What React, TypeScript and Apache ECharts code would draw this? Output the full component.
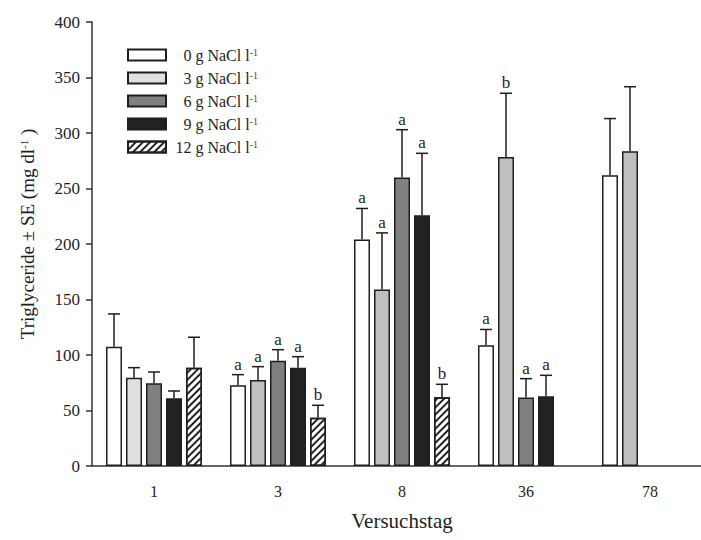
import React, { useEffect, useRef } from 'react';
import * as echarts from 'echarts';

const categories = ['1', '3', '8', '36', '78'];
const levelNames = ['0 g', '3 g', '6 g', '9 g', '12 g'];

const mean0 = [107.5, 72.7, 204, 108.7, 262];
const se0 = [29.5, 9.6, 28, 14.3, 51];
const letters0 = ['', 'a', 'a', 'a', ''];

const mean3 = [79.5, 77.5, 159, 278.4, 283.5];
const se3 = [9.1, 12, 51, 57.4, 58.2];
const letters3 = ['', 'a', 'a', 'b', ''];

const mean6 = [74.5, 94.9, 260, 61.6, null];
const se6 = [10.2, 9.9, 43, 17.1, null];
const letters6 = ['', 'a', 'a', 'a', ''];

const mean9 = [61, 88.6, 226, 62.8, null];
const se9 = [6.6, 9.9, 55.7, 18.9, null];
const letters9 = ['', 'a', 'a', 'a', ''];

const mean12 = [88.6, 43.5, 61.9, null, null];
const se12 = [27.4, 11.2, 11.7, null, null];
const letters12 = ['', 'b', 'b', '', ''];

const yTicks = [0, 50, 100, 150, 200, 250, 300, 350, 400];

const FONT = '"Liberation Serif", "Times New Roman", serif';
const INK = '#1e1e1e';

export default function App() {
  const ref = useRef<HTMLDivElement>(null);
  useEffect(() => {
    document.body.style.margin = '0';
    if (!ref.current) return;
    const chart = echarts.init(ref.current, undefined, { renderer: 'svg' });

    const means = [mean0, mean3, mean6, mean9, mean12];
    const ses = [se0, se3, se6, se9, se12];
    const letters = [letters0, letters3, letters6, letters9, letters12];
    const fills = ['#ffffff', '#e0e0e0', '#808080', '#222222', '#ffffff'];

    const barSeries: any[] = means.map((arr, lvl) => ({
      name: levelNames[lvl],
      type: 'bar',
      barWidth: 16,
      barGap: '25%',
      itemStyle: {
        color: fills[lvl],
        borderColor: INK,
        borderWidth: 1.5,
        ...(lvl === 4
          ? {
              decal: {
                symbol: 'rect',
                symbolSize: 1,
                color: '#222',
                backgroundColor: '#ffffff',
                dashArrayX: [1, 0],
                dashArrayY: [1.5, 3],
                rotation: -Math.PI / 4,
              },
            }
          : {}),
      },
      data: arr.map((v, ci) =>
        lvl === 1 && ci > 0 ? { value: v, itemStyle: { color: '#bfbfbf' } } : v
      ),
      z: 2,
    }));

    const errItems: { cat: number; m: number; s: number; lvl: number; letter: string }[] = [];
    means.forEach((arr, lvl) => {
      arr.forEach((m, ci) => {
        const s = ses[lvl][ci];
        if (m != null && s != null) {
          errItems.push({ cat: ci, m: m as number, s: s as number, lvl, letter: letters[lvl][ci] });
        }
      });
    });

    const errSeries = {
      type: 'custom',
      z: 5,
      silent: true,
      encode: { x: 0, y: 1 },
      data: errItems.map((e) => [e.cat, e.m + e.s]),
      renderItem: (params: any, api: any) => {
        const e = errItems[params.dataIndex];
        const base = api.coord([e.cat, e.m]);
        const top = api.coord([e.cat, e.m + e.s]);
        const x = base[0] + (e.lvl - 2) * 20;
        const children: any[] = [
          { type: 'line', shape: { x1: x, y1: base[1], x2: x, y2: top[1] }, style: { stroke: INK, lineWidth: 1.5 } },
          { type: 'line', shape: { x1: x - 6, y1: top[1], x2: x + 6, y2: top[1] }, style: { stroke: INK, lineWidth: 1.5 } },
        ];
        if (e.letter) {
          children.push({
            type: 'text',
            x,
            y: top[1] - 2,
            style: { text: e.letter, fontFamily: FONT, fontSize: 17, fill: INK, align: 'center', verticalAlign: 'bottom' },
          });
        }
        return { type: 'group', children };
      },
    };

    chart.setOption({
      animation: false,
      backgroundColor: '#ffffff',
      grid: { left: 92, width: 620, top: 22, bottom: 74, containLabel: false, outerBoundsMode: 'none' },
      legend: {
        show: true,
        orient: 'vertical',
        left: 127,
        top: 47,
        padding: 0,
        itemWidth: 38,
        itemHeight: 11,
        itemGap: 7,
        selectedMode: false,
        icon: 'rect',
        data: levelNames,
        formatter: (name: string) => `{t|${name} NaCl l}{s|-1}`,
        textStyle: {
          fontFamily: FONT,
          fontSize: 16,
          color: INK,
          width: 87,
          lineHeight: 16,
          rich: {
            t: { fontFamily: FONT, fontSize: 16, color: INK, align: 'right' },
            s: { fontFamily: FONT, fontSize: 10, color: '#5a4a2a', align: 'right', verticalAlign: 'top', padding: [0, 0, 6, 0] },
          },
        },
      },
      xAxis: {
        type: 'category',
        data: categories,
        name: 'Versuchstag',
        nameLocation: 'middle',
        nameGap: 44,
        nameTextStyle: { fontFamily: FONT, fontSize: 21, color: INK, verticalAlign: 'top' },
        axisLine: { lineStyle: { color: '#333', width: 1.5 } },
        axisTick: { alignWithLabel: true, length: 6, lineStyle: { color: '#333', width: 1.5 } },
        axisLabel: { fontFamily: FONT, fontSize: 16, color: INK, margin: 17 },
        splitLine: { show: false },
      },
      yAxis: {
        type: 'value',
        min: yTicks[0],
        max: yTicks[yTicks.length - 1],
        interval: 50,
        name: 'Triglyceride ± SE (mg dl{s|-1} )',
        nameLocation: 'middle',
        nameGap: 55,
        nameRotate: 90,
        nameTextStyle: {
          fontFamily: FONT,
          fontSize: 19,
          color: INK,
          padding: [0, 0, 0, 20],
          rich: {
            s: { fontFamily: FONT, fontSize: 11, color: INK, verticalAlign: 'top', padding: [0, 0, 8, 0] },
          },
        },
        axisLine: { show: true, lineStyle: { color: '#333', width: 1.5 } },
        axisTick: { show: true, length: 6, lineStyle: { color: '#333', width: 1.5 } },
        axisLabel: { fontFamily: FONT, fontSize: 17, color: INK, margin: 12 },
        splitLine: { show: false },
      },
      series: [...barSeries, errSeries],
    });

    return () => chart.dispose();
  }, []);

  return <div ref={ref} style={{ width: 701, height: 540 }} />;
}
